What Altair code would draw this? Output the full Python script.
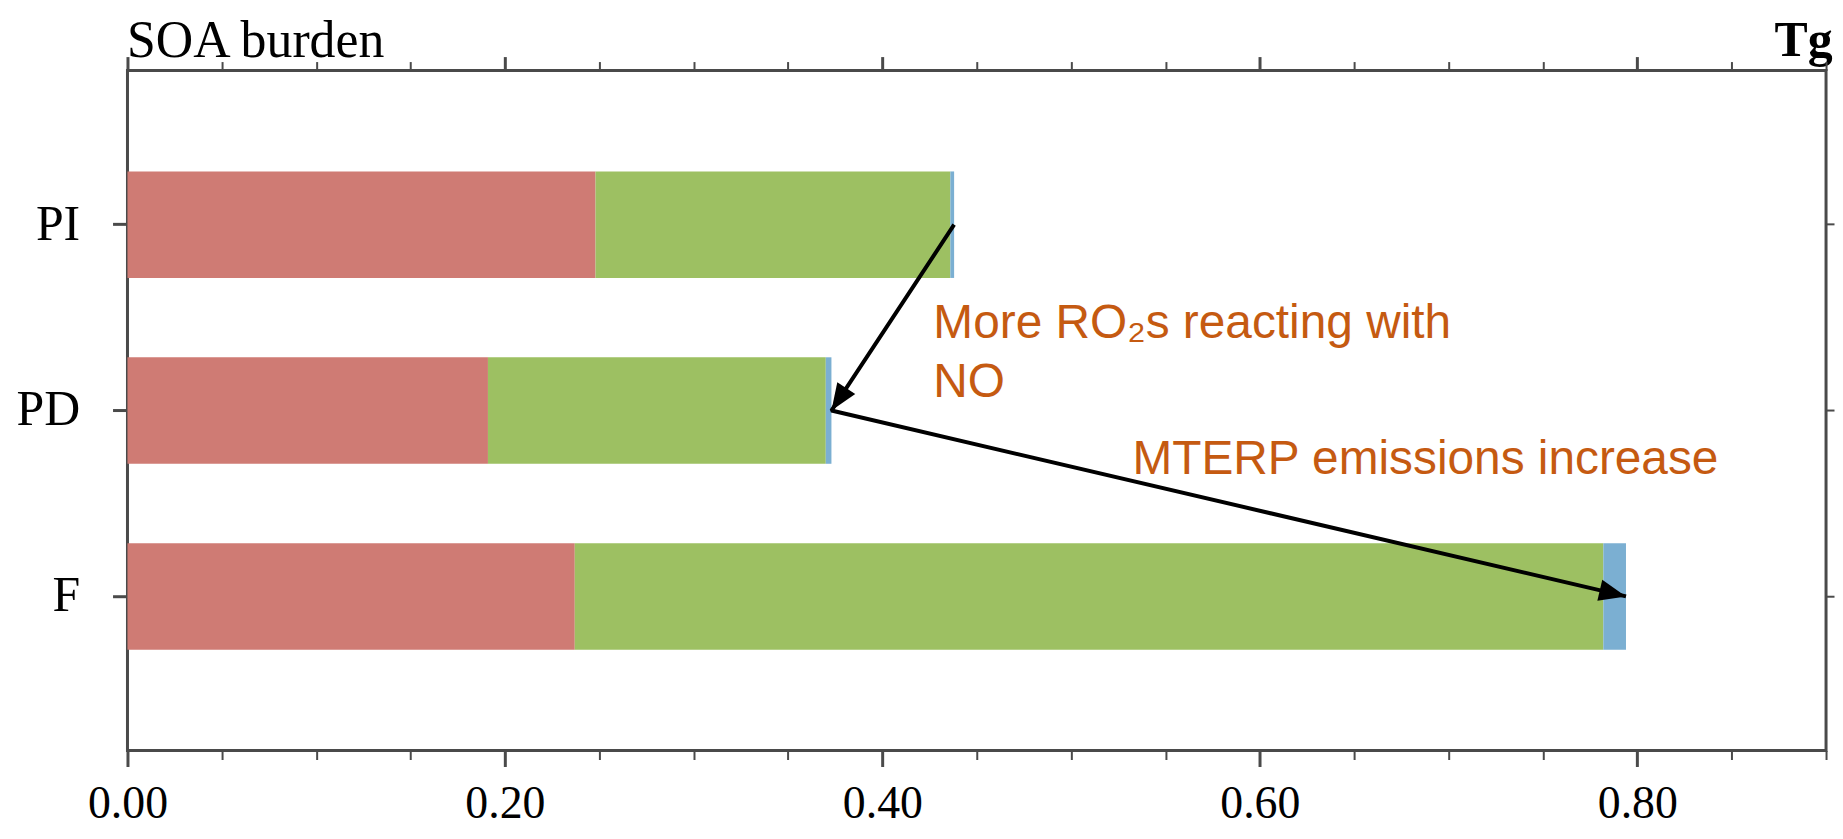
import altair as alt
import pandas as pd

# ---- data ----
categories = ["PI", "PD", "F"]
components = ["c1", "c2", "c3"]
red_vals = [0.248, 0.191, 0.237]
green_vals = [0.188, 0.179, 0.545]
blue_vals = [0.002, 0.003, 0.012]
colors = ["#CF7B74", "#9DC062", "#7BAFD2"]

major_ticks = [0.0, 0.2, 0.4, 0.6, 0.8]
minor_ticks = [0.05, 0.1, 0.15, 0.25, 0.3, 0.35, 0.45, 0.5, 0.55, 0.65, 0.7, 0.75, 0.85, 0.9]

head_cats = ["PD", "F"]
head_angles = [213.5, 103.2]

note1_text = "More RO\u2082s reacting with\nNO"
note1_x = [0.427]
note2_text = "MTERP emissions increase"
note2_x = [0.5325]

title_text = "SOA burden"
unit_text = "Tg"

# ---- tables ----
rows = []
for i, c in enumerate(categories):
    for j, (comp, vals) in enumerate(zip(components, [red_vals, green_vals, blue_vals])):
        rows.append({"cat": c, "comp": comp, "value": vals[i], "ord": j})
bar_df = pd.DataFrame(rows)

totals = [r + g + b for r, g, b in zip(red_vals, green_vals, blue_vals)]
line_df = pd.DataFrame({"cat": categories, "x": totals, "ord": [0, 1, 2]})
head_df = pd.DataFrame({"cat": head_cats,
                        "x": [totals[categories.index(c)] for c in head_cats],
                        "ang": head_angles})
note1_df = pd.DataFrame({"cat": ["PD"], "x": note1_x, "t": [note1_text]})
note2_df = pd.DataFrame({"cat": ["PD"], "x": note2_x, "t": [note2_text]})

W, H = 1706, 683
SERIF = "Liberation Serif"
SANS = "Liberation Sans"
TICK = "#4a4a4a"
NOTE = "#C55A11"

xscale = alt.Scale(domain=[0, 0.9], nice=False, zero=True)
yscale = alt.Scale(domain=categories, paddingInner=0.427, paddingOuter=0.543)

bars = alt.Chart(bar_df).mark_bar().encode(
    x=alt.X("value:Q", stack="zero", scale=xscale,
            axis=alt.Axis(orient="bottom", values=major_ticks, format=".2f",
                          tickSize=16, tickWidth=3, tickColor=TICK,
                          labelPadding=15, labelFontSize=46, labelFont=SERIF,
                          labelColor="black", labelFlush=False, labelOverlap=False,
                          domain=False, grid=False, title=None)),
    y=alt.Y("cat:N", scale=yscale,
            axis=alt.Axis(orient="left", tickSize=15, tickWidth=3, tickColor=TICK,
                          labelPadding=33, labelFontSize=50, labelFont=SERIF,
                          labelColor="black", domain=False, grid=False, title=None)),
    color=alt.Color("comp:N", scale=alt.Scale(domain=components, range=colors), legend=None),
    order=alt.Order("ord:Q"),
)

arrow_line = alt.Chart(line_df).mark_line(color="black", strokeWidth=4, strokeJoin="bevel").encode(
    x=alt.X("x:Q", scale=xscale,
            axis=alt.Axis(orient="bottom", values=minor_ticks, labels=False,
                          tickSize=9, tickWidth=2, tickColor=TICK,
                          domain=False, grid=False, title=None)),
    y=alt.Y("cat:N", scale=yscale,
            axis=alt.Axis(orient="right", labels=False, tickSize=8, tickWidth=2,
                          tickColor=TICK, domain=False, grid=False, title=None)),
    order=alt.Order("ord:Q"),
)

heads = alt.Chart(head_df).mark_point(
    shape="M0,0 L0.8,2 L-0.8,2 Z", filled=True, fill="black", opacity=1,
    strokeWidth=0, size=729,
).encode(
    x=alt.X("x:Q", scale=xscale,
            axis=alt.Axis(orient="top", values=major_ticks, labels=False,
                          tickSize=14, tickWidth=3, tickColor=TICK,
                          domain=False, grid=False, title=unit_text,
                          titleX=W + 6, titleY=-15, titleAlign="right", titleAngle=0,
                          titleBaseline="alphabetic", titleFont=SERIF,
                          titleFontSize=50, titleFontWeight="bold", titleColor="black")),
    y=alt.Y("cat:N", scale=yscale, axis=None),
    angle=alt.Angle("ang:Q", scale=None),
)

note1 = alt.Chart(note1_df).mark_text(
    align="left", baseline="alphabetic", dy=-73, font=SANS, fontSize=48,
    color=NOTE, lineBreak="\n", lineHeight=59,
).encode(
    x=alt.X("x:Q", scale=xscale,
            axis=alt.Axis(orient="top", values=minor_ticks, labels=False,
                          tickSize=9, tickWidth=2, tickColor=TICK,
                          domain=False, grid=False, title=title_text,
                          titleX=-1, titleY=-14, titleAlign="left", titleAngle=0,
                          titleBaseline="alphabetic", titleFont=SERIF,
                          titleFontSize=52, titleFontWeight="normal", titleColor="black")),
    y=alt.Y("cat:N", scale=yscale, axis=None),
    text="t:N",
)

note2 = alt.Chart(note2_df).mark_text(
    align="left", baseline="alphabetic", dy=64, font=SANS, fontSize=48, color=NOTE,
).encode(
    x=alt.X("x:Q", scale=xscale, axis=None),
    y=alt.Y("cat:N", scale=yscale, axis=None),
    text="t:N",
)

chart = alt.layer(bars, arrow_line, heads, note1, note2).resolve_axis(
    x="independent", y="independent"
).properties(
    width=W, height=H,
    autosize=alt.AutoSizeParams(type="none"),
    padding={"left": 120, "top": 61, "right": 9, "bottom": 79},
    background="white",
).configure_view(stroke="#4a4a4a", strokeWidth=3)

chart.save("out.html", embed_options={"renderer": "svg", "actions": False})
